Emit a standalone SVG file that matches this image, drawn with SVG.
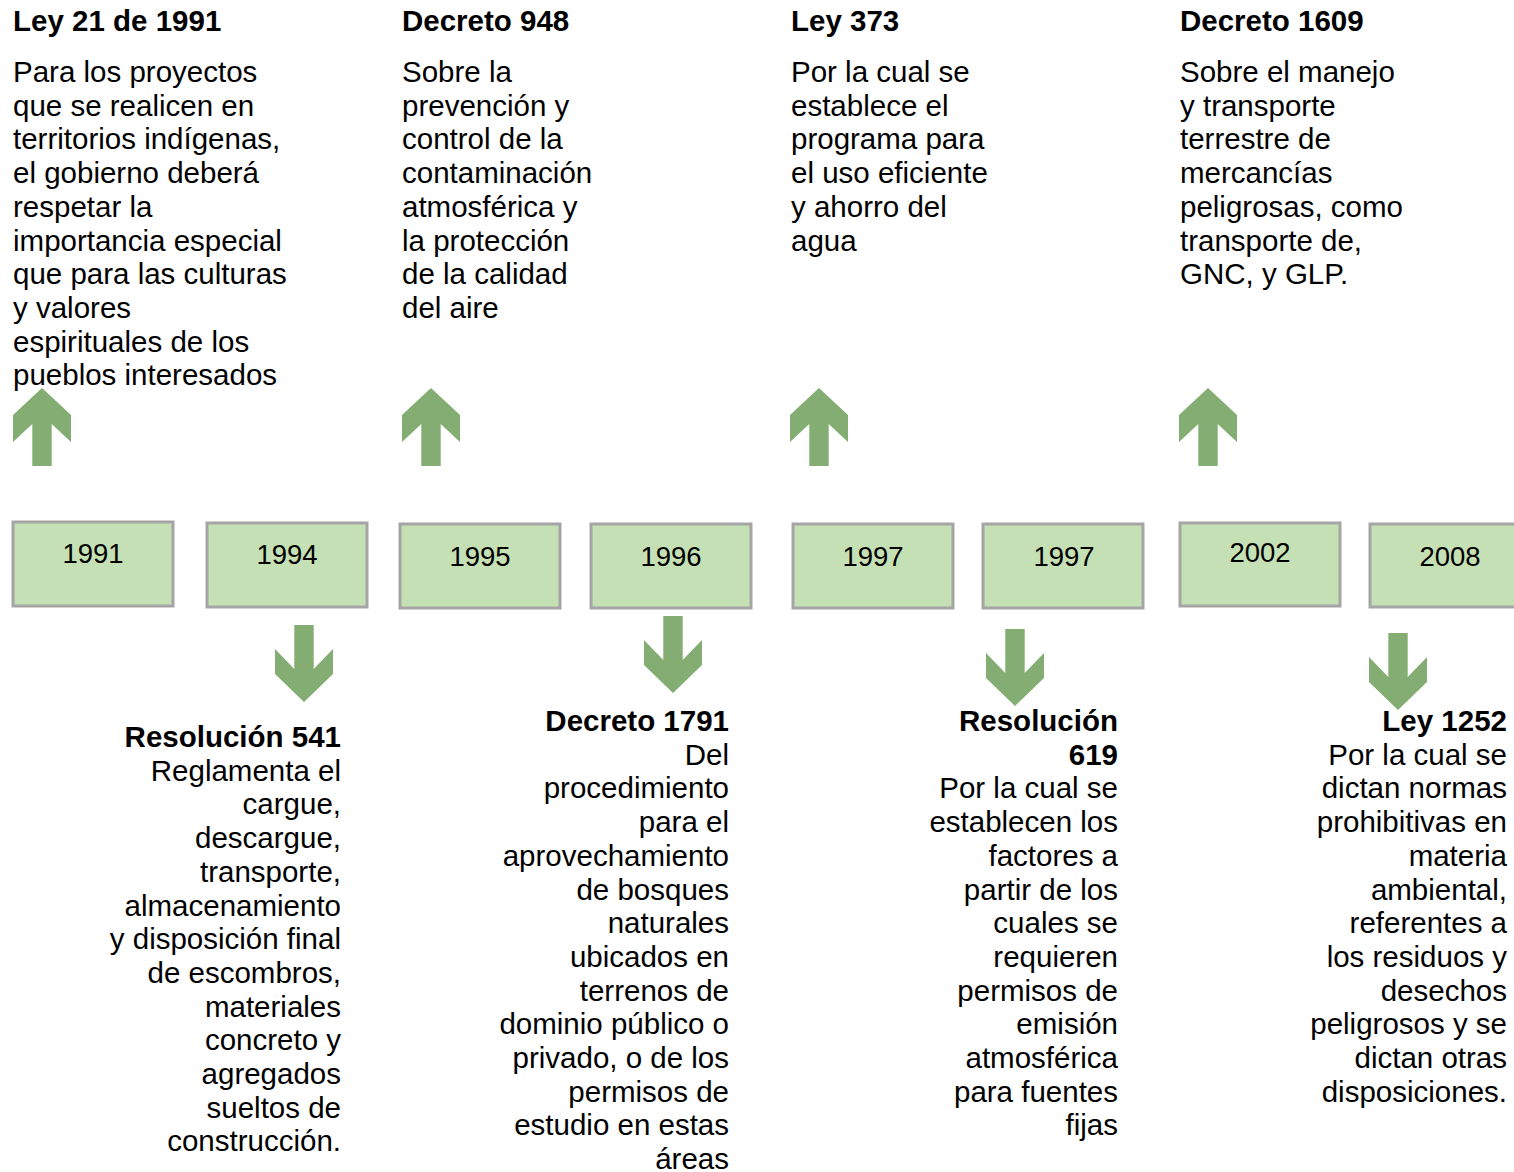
<svg xmlns="http://www.w3.org/2000/svg" xmlns:xlink="http://www.w3.org/1999/xlink" width="1514" height="1172" viewBox="0 0 1514 1172">
<style>
text{font-family:"Liberation Sans",Arial,sans-serif;font-size:29.5px;fill:#000}
.t{font-weight:bold}
.r{text-anchor:end}
.y{font-size:27.5px;text-anchor:middle}
.box{fill:#C5E0B4;stroke:#A5A5A5;stroke-width:3}
.arr{fill:#83AD72}
</style>
<defs>
<path id="up" class="arr" d="M0,0 L29,27 L29,54 L9.7,36 L9.7,78 L-9.7,78 L-9.7,36 L-29,54 L-29,27 Z"/>
<path id="down" class="arr" d="M0,0 L29,-28 L29,-53 L9.7,-33 L9.7,-77 L-9.7,-77 L-9.7,-33 L-29,-53 L-29,-28 Z"/>
</defs>
<rect width="1514" height="1172" fill="#fff"/>
<g id="connectors">
<use xlink:href="#up" href="#up" x="42" y="388"/>
<use xlink:href="#up" href="#up" x="431" y="388"/>
<use xlink:href="#up" href="#up" x="819" y="388"/>
<use xlink:href="#up" href="#up" x="1208" y="388"/>
<use xlink:href="#down" href="#down" x="304" y="702"/>
<use xlink:href="#down" href="#down" x="673" y="693"/>
<use xlink:href="#down" href="#down" x="1015" y="706"/>
<use xlink:href="#down" href="#down" x="1398" y="710"/>
</g>
<g id="y1991"><rect class="box" x="13" y="522" width="160" height="84"/><text class="y" x="93" y="563">1991</text></g>
<g id="y1994"><rect class="box" x="207" y="523" width="160" height="84"/><text class="y" x="287" y="564">1994</text></g>
<g id="y1995"><rect class="box" x="400" y="524" width="160" height="84"/><text class="y" x="480" y="566">1995</text></g>
<g id="y1996"><rect class="box" x="591" y="524" width="160" height="84"/><text class="y" x="671" y="566">1996</text></g>
<g id="y1997a"><rect class="box" x="793" y="524" width="160" height="84"/><text class="y" x="873" y="566">1997</text></g>
<g id="y1997b"><rect class="box" x="983" y="524" width="160" height="84"/><text class="y" x="1064" y="566">1997</text></g>
<g id="y2002"><rect class="box" x="1180" y="523" width="160" height="83"/><text class="y" x="1260" y="562">2002</text></g>
<g id="y2008"><rect class="box" x="1370" y="524" width="160" height="83"/><text class="y" x="1450" y="566">2008</text></g>
<g id="ley21">
<text class="t" x="13" y="31">Ley 21 de 1991</text>
<text x="13" y="82">Para los proyectos<tspan x="13" dy="33.7">que se realicen en</tspan><tspan x="13" dy="33.7">territorios indígenas,</tspan><tspan x="13" dy="33.7">el gobierno deberá</tspan><tspan x="13" dy="33.7">respetar la</tspan><tspan x="13" dy="33.7">importancia especial</tspan><tspan x="13" dy="33.7">que para las culturas</tspan><tspan x="13" dy="33.7">y valores</tspan><tspan x="13" dy="33.7">espirituales de los</tspan><tspan x="13" dy="33.7">pueblos interesados</tspan></text>
</g>
<g id="dec948">
<text class="t" x="402" y="31">Decreto 948</text>
<text x="402" y="82">Sobre la<tspan x="402" dy="33.7">prevención y</tspan><tspan x="402" dy="33.7">control de la</tspan><tspan x="402" dy="33.7">contaminación</tspan><tspan x="402" dy="33.7">atmosférica y</tspan><tspan x="402" dy="33.7">la protección</tspan><tspan x="402" dy="33.7">de la calidad</tspan><tspan x="402" dy="33.7">del aire</tspan></text>
</g>
<g id="ley373">
<text class="t" x="791" y="31">Ley 373</text>
<text x="791" y="82">Por la cual se<tspan x="791" dy="33.7">establece el</tspan><tspan x="791" dy="33.7">programa para</tspan><tspan x="791" dy="33.7">el uso eficiente</tspan><tspan x="791" dy="33.7">y ahorro del</tspan><tspan x="791" dy="33.7">agua</tspan></text>
</g>
<g id="dec1609">
<text class="t" x="1180" y="31">Decreto 1609</text>
<text x="1180" y="82">Sobre el manejo<tspan x="1180" dy="33.7">y transporte</tspan><tspan x="1180" dy="33.7">terrestre de</tspan><tspan x="1180" dy="33.7">mercancías</tspan><tspan x="1180" dy="33.7">peligrosas, como</tspan><tspan x="1180" dy="33.7">transporte de,</tspan><tspan x="1180" dy="33.7">GNC, y GLP.</tspan></text>
</g>
<g id="res541">
<text class="r" x="341" y="747"><tspan class="t">Resolución 541</tspan><tspan x="341" dy="33.7">Reglamenta el</tspan><tspan x="341" dy="33.7">cargue,</tspan><tspan x="341" dy="33.7">descargue,</tspan><tspan x="341" dy="33.7">transporte,</tspan><tspan x="341" dy="33.7">almacenamiento</tspan><tspan x="341" dy="33.7">y disposición final</tspan><tspan x="341" dy="33.7">de escombros,</tspan><tspan x="341" dy="33.7">materiales</tspan><tspan x="341" dy="33.7">concreto y</tspan><tspan x="341" dy="33.7">agregados</tspan><tspan x="341" dy="33.7">sueltos de</tspan><tspan x="341" dy="33.7">construcción.</tspan></text>
</g>
<g id="dec1791">
<text class="r" x="729" y="731"><tspan class="t">Decreto 1791</tspan><tspan x="729" dy="33.7">Del</tspan><tspan x="729" dy="33.7">procedimiento</tspan><tspan x="729" dy="33.7">para el</tspan><tspan x="729" dy="33.7">aprovechamiento</tspan><tspan x="729" dy="33.7">de bosques</tspan><tspan x="729" dy="33.7">naturales</tspan><tspan x="729" dy="33.7">ubicados en</tspan><tspan x="729" dy="33.7">terrenos de</tspan><tspan x="729" dy="33.7">dominio público o</tspan><tspan x="729" dy="33.7">privado, o de los</tspan><tspan x="729" dy="33.7">permisos de</tspan><tspan x="729" dy="33.7">estudio en estas</tspan><tspan x="729" dy="33.7">áreas</tspan></text>
</g>
<g id="res619">
<text class="r" x="1118" y="731"><tspan class="t">Resolución</tspan><tspan class="t" x="1118" dy="33.7">619</tspan><tspan x="1118" dy="33.7">Por la cual se</tspan><tspan x="1118" dy="33.7">establecen los</tspan><tspan x="1118" dy="33.7">factores a</tspan><tspan x="1118" dy="33.7">partir de los</tspan><tspan x="1118" dy="33.7">cuales se</tspan><tspan x="1118" dy="33.7">requieren</tspan><tspan x="1118" dy="33.7">permisos de</tspan><tspan x="1118" dy="33.7">emisión</tspan><tspan x="1118" dy="33.7">atmosférica</tspan><tspan x="1118" dy="33.7">para fuentes</tspan><tspan x="1118" dy="33.7">fijas</tspan></text>
</g>
<g id="ley1252">
<text class="r" x="1507" y="731"><tspan class="t">Ley 1252</tspan><tspan x="1507" dy="33.7">Por la cual se</tspan><tspan x="1507" dy="33.7">dictan normas</tspan><tspan x="1507" dy="33.7">prohibitivas en</tspan><tspan x="1507" dy="33.7">materia</tspan><tspan x="1507" dy="33.7">ambiental,</tspan><tspan x="1507" dy="33.7">referentes a</tspan><tspan x="1507" dy="33.7">los residuos y</tspan><tspan x="1507" dy="33.7">desechos</tspan><tspan x="1507" dy="33.7">peligrosos y se</tspan><tspan x="1507" dy="33.7">dictan otras</tspan><tspan x="1507" dy="33.7">disposiciones.</tspan></text>
</g>
</svg>
